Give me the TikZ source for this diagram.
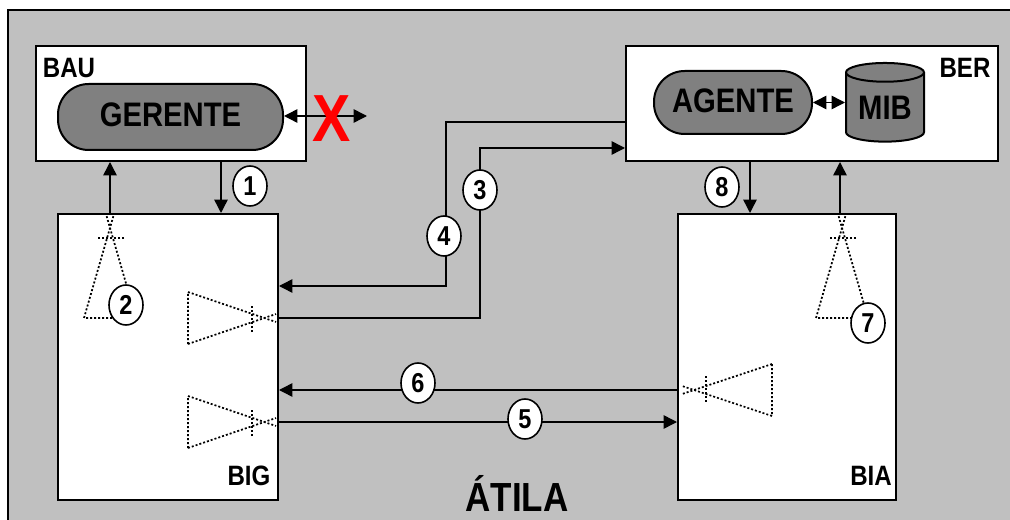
\documentclass[tikz,border=0pt]{standalone}
\usepackage{fontspec}
\setmainfont[FakeStretch=0.86]{Liberation Sans}
\usetikzlibrary{arrows.meta,shapes.geometric}

\tikzset{
  box/.style={draw,line width=1.5pt,fill=white,inner sep=0pt},
  blob/.style={draw,line width=1.5pt,fill=darkfill,rounded corners=23pt,inner sep=0pt,text depth=3pt,font=\bfseries\fontsize{25.5}{26}\selectfont},
  tag/.style={inner sep=0pt,font=\bfseries\fontsize{21}{22}\selectfont},
  badge/.style={draw,ellipse,line width=1.2pt,fill=white,inner sep=0pt,minimum width=25.5pt,minimum height=30pt,font=\bfseries\fontsize{20.5}{21}\selectfont},
  conn/.style={line width=1.1pt,-{Triangle[length=10pt,width=10pt]}},
  biconn/.style={line width=1.1pt,{Triangle[length=10pt,width=10pt]}-{Triangle[length=10pt,width=10pt]}},
  dots/.style={line width=1.3pt,dash pattern=on 1.5pt off 1.5pt},
  pics/antenna/.style={code={
    % tip at the origin, mouth at distance #1
    \draw[dots] (#1,-26) -- (0,4) (#1,26) -- (0,-4) (#1,-26) -- (#1,26);
    \draw[dots] (24,-14) -- (24,14);
  }}
}
\definecolor{framefill}{HTML}{C0C0C0}
\definecolor{darkfill}{HTML}{808080}

\begin{document}
\begin{tikzpicture}[x=0.75pt,y=-0.75pt]
  \useasboundingbox (0,0) rectangle (1010,520);

  % Outer frame
  \fill[framefill] (8,10) rectangle (1010,520);
  \draw[line width=1.5pt] (8,520) -- (8,10) -- (1010,10);

  % ---- Boxes ----
  \node[box,minimum width=202.5pt,minimum height=86.25pt] (bau) at (171,103.5) {};
  \node[box,minimum width=279pt,minimum height=86.25pt] (ber) at (812,103.5) {};
  \node[box,minimum width=165pt,minimum height=214.5pt] (big) at (168,357) {};
  \node[box,minimum width=163.5pt,minimum height=214.5pt] (bia) at (787,357) {};

  \node[tag] (baulabel) at (69,68) {BAU};
  \node[tag] (berlabel) at (965,68) {BER};
  \node[tag] (biglabel) at (249,476) {BIG};
  \node[tag] (bialabel) at (871,476) {BIA};
  \node[inner sep=0pt,font=\bfseries\fontsize{30.5}{31}\selectfont] (atila) at (517,493) {ÁTILA};

  % ---- Inner blocks ----
  \node[blob,minimum width=168.75pt,minimum height=49.5pt] (gerente) at (170.5,117) {GERENTE};
  \node[blob,minimum width=118.5pt,minimum height=47.25pt] (agente) at (733,102.5) {AGENTE};
  \node[cylinder,shape border rotate=90,aspect=0.35,draw,line width=1.5pt,fill=darkfill,
    minimum width=58.5pt,minimum height=59pt,inner sep=0pt,
    font=\bfseries\fontsize{25.5}{26}\selectfont] (mib) at (885,107.5) {MIB};

  % ---- Antennas ----
  \pic at (110,214) [rotate=-90] {antenna=104};
  \pic at (842,214) [rotate=-90] {antenna=104};
  \pic at (276,318) [rotate=180] {antenna=88};
  \pic at (276,422) [rotate=180] {antenna=88};
  \pic at (682,390) {antenna=90};

  % ---- Connectors ----
  % vertical links between the rows
  \coordinate (c1) at (221,0);
  \coordinate (c2) at (110,0);
  \coordinate (c7) at (840,0);
  \coordinate (c8) at (750,0);
  \draw[conn] (c1 |- bau.south) -- (c1 |- big.north);
  \draw[conn] (c2 |- big.north) -- (c2 |- bau.south);
  \draw[conn] (c8 |- ber.south) -- (c8 |- bia.north);
  \draw[conn] (c7 |- bia.north) -- (c7 |- ber.south);

  % routes between BIG and BER
  \coordinate (t3) at (480,148);
  \coordinate (r3) at (480,318);
  \coordinate (t4) at (446,122);
  \coordinate (r4) at (446,286);
  \draw[conn] (big.east |- r3) -- (r3) -- (t3) -- (ber.west |- t3);
  \draw[conn] (ber.west |- t4) -- (t4) -- (r4) -- (big.east |- r4);

  % links between BIG and BIA
  \coordinate (h5) at (0,422);
  \coordinate (h6) at (0,390);
  \draw[conn] (big.east |- h5) -- (bia.west |- h5);
  \draw[conn] (bia.west |- h6) -- (big.east |- h6);

  % links inside the top boxes
  \coordinate (cut) at (367,116);
  \draw[biconn] (gerente.east |- cut) -- (cut);
  \draw[biconn] (agente.east) -- (mib.west |- agente.east);
  \node[text=red,inner sep=0pt,font=\bfseries\fontsize{50}{50}\selectfont] (cross) at (332,119) {X};

  % ---- Step numbers ----
  \node[badge] (n1) at (250,186) {1};
  \node[badge] (n2) at (126,305) {2};
  \node[badge] (n3) at (480,190) {3};
  \node[badge] (n4) at (444,236) {4};
  \node[badge] (n5) at (525,419) {5};
  \node[badge] (n6) at (418,383) {6};
  \node[badge] (n7) at (868,323) {7};
  \node[badge] (n8) at (722,187) {8};
\end{tikzpicture}
\end{document}
